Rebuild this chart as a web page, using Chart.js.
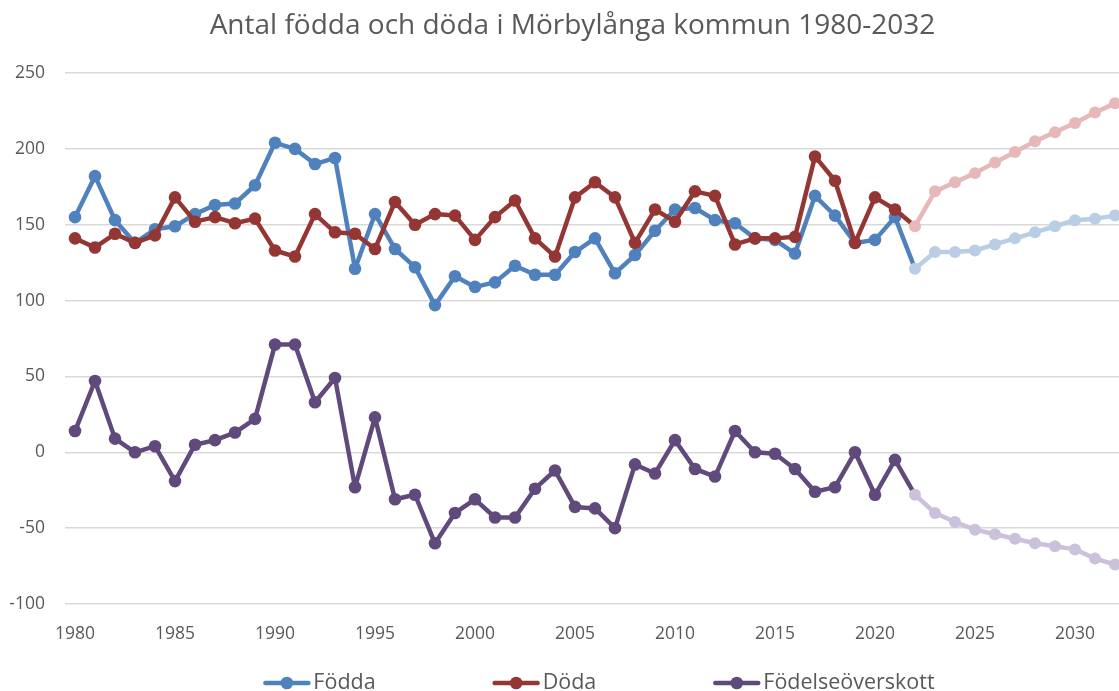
<!DOCTYPE html>
<html>
<head>
<meta charset="utf-8">
<script src="https://cdn.jsdelivr.net/npm/chart.js@4.4.1/dist/chart.umd.min.js"></script>
<style>
  html, body { margin: 0; padding: 0; background: #fff; overflow: hidden; }
  #wrap { width: 1155px; height: 691px; }
</style>
</head>
<body>
<div id="wrap"><canvas id="chart" width="1155" height="691"></canvas></div>
<script>
const years = [1980, 1981, 1982, 1983, 1984, 1985, 1986, 1987, 1988, 1989,
    1990, 1991, 1992, 1993, 1994, 1995, 1996, 1997, 1998, 1999,
    2000, 2001, 2002, 2003, 2004, 2005, 2006, 2007, 2008, 2009,
    2010, 2011, 2012, 2013, 2014, 2015, 2016, 2017, 2018, 2019,
    2020, 2021, 2022, 2023, 2024, 2025, 2026, 2027, 2028, 2029,
    2030, 2031, 2032];

const fodda = [155, 182, 153, 138, 147, 149, 157, 163, 164, 176,
    204, 200, 190, 194, 121, 157, 134, 122, 97, 116,
    109, 112, 123, 117, 117, 132, 141, 118, 130, 146,
    160, 161, 153, 151, 141, 140, 131, 169, 156, 138,
    140, 155, 121, 132, 132, 133, 137, 141, 145, 149,
    153, 154, 156];

const doda = [141, 135, 144, 138, 143, 168, 152, 155, 151, 154,
    133, 129, 157, 145, 144, 134, 165, 150, 157, 156,
    140, 155, 166, 141, 129, 168, 178, 168, 138, 160,
    152, 172, 169, 137, 141, 141, 142, 195, 179, 138,
    168, 160, 149, 172, 178, 184, 191, 198, 205, 211,
    217, 224, 230];

const overskott = [14, 47, 9, 0, 4, -19, 5, 8, 13, 22,
    71, 71, 33, 49, -23, 23, -31, -28, -60, -40,
    -31, -43, -43, -24, -12, -36, -37, -50, -8, -14,
    8, -11, -16, 14, 0, -1, -11, -26, -23, 0,
    -28, -5, -28, -40, -46, -51, -54, -57, -60, -62,
    -64, -70, -74];

const seriesNames = ['Födda', 'Döda', 'Födelseöverskott'];
const xTickYears = [1980, 1985, 1990, 1995, 2000, 2005, 2010, 2015, 2020, 2025, 2030];
const yTickValues = [-100, -50, 0, 50, 100, 150, 200, 250];
const firstForecastYear = 2022;

const darkColors = ['#4f81bd', '#943634', '#604a7b'];
const lightColors = ['#b9cde5', '#e6b9b8', '#ccc1da'];
const textColor = '#595959';
const fontFamily = '"Open Sans", "Noto Sans", sans-serif';

function isForecast(index) {
    return years[index] >= firstForecastYear;
}

function makeDataset(values, i, order) {
    return {
        label: seriesNames[i],
        data: years.map((yr, k) => ({ x: yr, y: values[k] })),
        borderColor: darkColors[i],
        borderWidth: 4.5,
        borderJoinStyle: 'round',
        borderCapStyle: 'round',
        pointRadius: years.map((yr, k) => isForecast(k) ? 6 : 6.3),
        pointBackgroundColor: years.map((yr, k) => isForecast(k) ? lightColors[i] : darkColors[i]),
        pointBorderWidth: 0,
        pointHoverRadius: 6.3,
        segment: {
            borderColor: c => isForecast(c.p0DataIndex) ? lightColors[i] : darkColors[i]
        },
        tension: 0,
        order: order
    };
}

// legend drawn under the axis: line with a marker, then the name
const bottomLegend = {
    id: 'bottomLegend',
    afterDraw(chart) {
        const { ctx, chartArea } = chart;
        const lineLen = 47, gap = 3, spacing = 117;
        ctx.save();
        ctx.font = '21.5px ' + fontFamily;
        const widths = seriesNames.map(n => ctx.measureText(n).width);
        const total = widths.reduce((s, w) => s + lineLen + gap + w, 0) + spacing * (seriesNames.length - 1);
        let x = (chartArea.left + chartArea.right) / 2 - 6 - total / 2;
        const y = chart.height - 8;
        seriesNames.forEach((name, i) => {
            ctx.strokeStyle = darkColors[i];
            ctx.lineWidth = 4.5;
            ctx.lineCap = 'round';
            ctx.beginPath();
            ctx.moveTo(x + 2, y);
            ctx.lineTo(x + lineLen - 2, y);
            ctx.stroke();
            ctx.fillStyle = darkColors[i];
            ctx.beginPath();
            ctx.arc(x + lineLen / 2, y, 6.3, 0, Math.PI * 2);
            ctx.fill();
            ctx.fillStyle = textColor;
            ctx.textAlign = 'left';
            ctx.textBaseline = 'middle';
            ctx.fillText(name, x + lineLen + gap, y);
            x += lineLen + gap + widths[i] + spacing;
        });
        ctx.restore();
    }
};

const ctx = document.getElementById('chart');

const config = {
    type: 'line',
    data: {
        datasets: [
            makeDataset(fodda, 0, 3),
            makeDataset(doda, 1, 2),
            makeDataset(overskott, 2, 1)
        ]
    },
    options: {
        responsive: false,
        animation: false,
        layout: {
            padding: { left: 0, right: 10, top: 0, bottom: 47 }
        },
        plugins: {
            legend: { display: false },
            tooltip: { enabled: false },
            title: {
                display: true,
                text: 'Antal födda och döda i Mörbylånga kommun 1980-2032',
                color: textColor,
                font: { family: fontFamily, size: 28, weight: 'normal' },
                padding: { top: 9, bottom: 30.4 }
            }
        },
        scales: {
            x: {
                type: 'linear',
                min: 1979.5,
                max: 2033.5,
                grid: { display: false },
                border: { display: false },
                afterBuildTicks: s => { s.ticks = xTickYears.map(v => ({ value: v })); },
                afterFit: s => { s.height = 40; },
                ticks: {
                    autoSkip: false,
                    maxRotation: 0,
                    padding: 12,
                    color: textColor,
                    font: { family: fontFamily, size: 17.5 },
                    callback: v => String(v)
                }
            },
            y: {
                min: -100,
                max: 250,
                afterBuildTicks: s => { s.ticks = yTickValues.map(v => ({ value: v })); },
                afterFit: s => { s.width = 65; },
                grid: { color: '#d9d9d9', lineWidth: 1.5, drawTicks: false },
                border: { display: false },
                ticks: {
                    padding: 20,
                    color: textColor,
                    font: { family: fontFamily, size: 17.5 },
                    callback: v => String(v)
                }
            }
        }
    },
    plugins: [bottomLegend]
};

const myChart = new Chart(ctx, config);
</script>
</body>
</html>
